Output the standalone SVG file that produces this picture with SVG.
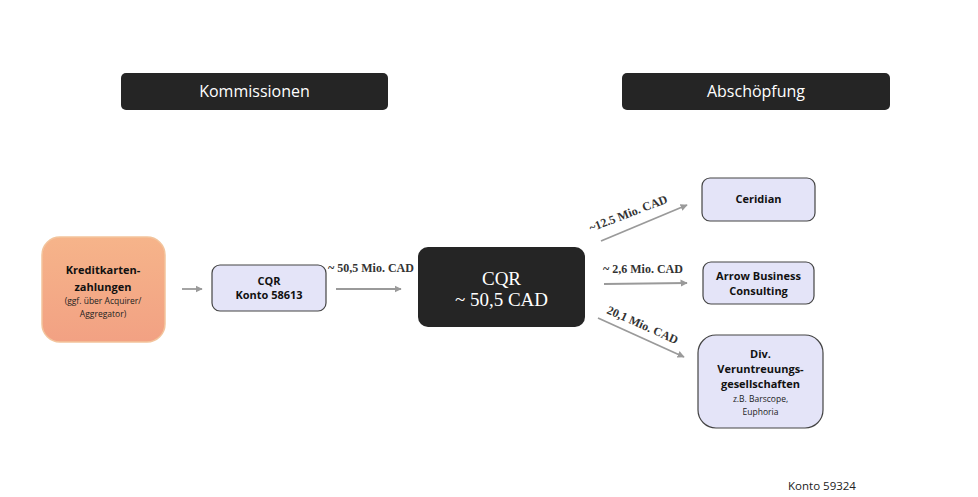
<svg xmlns="http://www.w3.org/2000/svg" width="978" height="497" viewBox="0 0 978 497">
<style>
.bar{fill:#252525}
.bartxt{font-family:"Open Sans","Noto Sans",sans-serif;font-size:16px;fill:#fff;text-anchor:middle}
.lav{fill:#e4e4f8;stroke:#444;stroke-width:1.2}
.b{font-family:"Open Sans","Noto Sans",sans-serif;font-weight:bold;font-size:11px;fill:#111;text-anchor:middle}
.s{font-family:"Open Sans","Noto Sans",sans-serif;font-size:8.5px;fill:#222;text-anchor:middle}
.lbl{font-family:"Liberation Serif","Times New Roman",serif;font-weight:bold;font-size:12px;fill:#333}
.con{stroke:#9a9a9a;stroke-width:1.8;fill:none;marker-end:url(#ah)}
</style>
<defs>
<marker id="ah" viewBox="0 0 10 10" refX="9" refY="5" markerWidth="4" markerHeight="4" orient="auto">
<path d="M0,0 L10,5 L0,10 z" fill="#9a9a9a"/>
</marker>
<linearGradient id="og" x1="0" y1="0" x2="0" y2="1">
<stop offset="0" stop-color="#f6b48a"/>
<stop offset="1" stop-color="#f2a183"/>
</linearGradient>
</defs>
<rect width="978" height="497" fill="#fff"/>
<g id="kommissionen">
<rect class="bar" x="121" y="73" width="267" height="37" rx="5"/>
<text class="bartxt" x="254.5" y="97">Kommissionen</text>
</g>
<g id="abschoepfung">
<rect class="bar" x="622" y="73" width="268" height="37" rx="5"/>
<text class="bartxt" x="756" y="97">Abschöpfung</text>
</g>
<g id="kreditkarten">
<rect x="42" y="237" width="123" height="105" rx="18" fill="url(#og)" stroke="#f3c49c" stroke-width="1.5"/>
<text class="b" x="103" y="274" font-size="12">Kreditkarten-</text>
<text class="b" x="103" y="291" font-size="12">zahlungen</text>
<text class="s" x="103" y="304">(ggf. über Acquirer/</text>
<text class="s" x="103" y="317">Aggregator)</text>
</g>
<g id="cqr-konto">
<rect class="lav" x="212" y="265" width="114" height="46" rx="8"/>
<text class="b" x="269" y="285">CQR</text>
<text class="b" x="269" y="299">Konto 58613</text>
</g>
<g id="cqr-main">
<rect x="418" y="247" width="167" height="80" rx="10" fill="#252525"/>
<text x="501.5" y="285" font-family="Liberation Serif,Times New Roman,serif" font-size="19" fill="#fff" text-anchor="middle">CQR</text>
<text x="501.5" y="306" font-family="Liberation Serif,Times New Roman,serif" font-size="19" fill="#fff" text-anchor="middle">~ 50,5 CAD</text>
</g>
<g id="ceridian">
<rect class="lav" x="702" y="178" width="113" height="43" rx="8"/>
<text class="b" x="758.5" y="203">Ceridian</text>
</g>
<g id="arrow-business">
<rect class="lav" x="703" y="262" width="111" height="42" rx="8"/>
<text class="b" x="758.5" y="280">Arrow Business</text>
<text class="b" x="758.5" y="295">Consulting</text>
</g>
<g id="div">
<rect class="lav" x="698" y="335" width="125" height="93" rx="18"/>
<text class="b" x="760.5" y="358">Div.</text>
<text class="b" x="760.5" y="373">Veruntreuungs-</text>
<text class="b" x="760.5" y="388">gesellschaften</text>
<text class="s" x="760.5" y="402">z.B. Barscope,</text>
<text class="s" x="760.5" y="415">Euphoria</text>
</g>
<g id="connectors">
<line class="con" x1="182" y1="289" x2="202" y2="289"/>
<line class="con" x1="336" y1="289" x2="401" y2="289"/>
<line class="con" x1="601" y1="241" x2="687" y2="205"/>
<line class="con" x1="604" y1="284" x2="687" y2="283"/>
<line class="con" x1="598" y1="318" x2="684" y2="357"/>
<text class="lbl" x="328" y="272">~ 50,5 Mio. CAD</text>
<text class="lbl" x="603" y="273">~ 2,6 Mio. CAD</text>
<text class="lbl" transform="translate(591,232) rotate(-21)">~12.5 Mio. CAD</text>
<text class="lbl" transform="translate(606,313) rotate(24)">20,1 Mio. CAD</text>
</g>
<text x="822" y="490" font-family="Open Sans,Noto Sans,sans-serif" font-size="11.5" fill="#222" text-anchor="middle">Konto 59324</text>
</svg>
